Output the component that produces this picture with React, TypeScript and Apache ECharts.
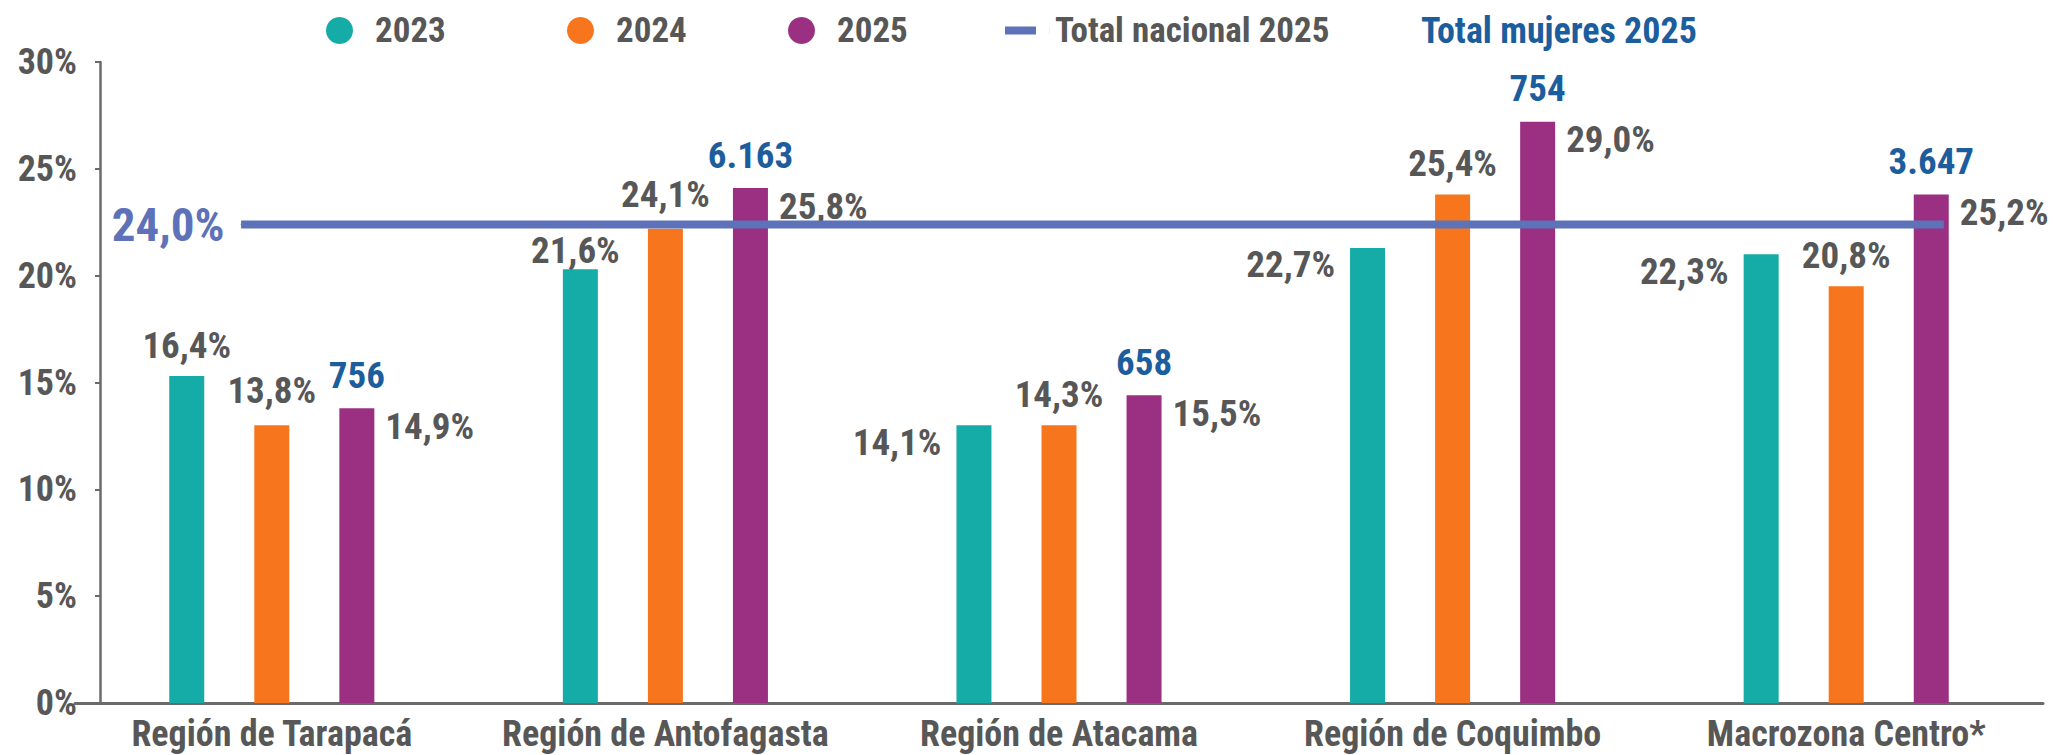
import React, { useEffect, useRef } from 'react';
import * as echarts from 'echarts';

// ---------- data ----------
const CATEGORIES = ['Región de Tarapacá', 'Región de Antofagasta', 'Región de Atacama', 'Región de Coquimbo', 'Macrozona Centro*'];
const SERIES_NAMES = ['2023', '2024', '2025'];
// bar heights as drawn against the y axis
const BAR_2023 = [15.3, 20.3, 13.0, 21.3, 21.0];
const BAR_2024 = [13.0, 22.2, 13.0, 23.8, 19.5];
const BAR_2025 = [13.8, 24.1, 14.4, 27.2, 23.8];
// printed percentage labels
const PCT_2023 = [16.4, 21.6, 14.1, 22.7, 22.3];
const PCT_2024 = [13.8, 24.1, 14.3, 25.4, 20.8];
const PCT_2025 = [14.9, 25.8, 15.5, 29.0, 25.2];
// printed "Total mujeres 2025" counts
const WOMEN_2025 = [756, 6163, 658, 754, 3647];
// national reference line
const NATIONAL_NAME = 'Total nacional 2025';
const NATIONAL_2025_LEVEL = 22.4;
const NATIONAL_2025_PCT = 24.0;
const WOMEN_TITLE = 'Total mujeres 2025';
const Y_MIN = 0;
const Y_MAX = 30;
const Y_STEP = 5;

// ---------- styles ----------
const FONT = "'Liberation Sans Narrow', 'Arial Narrow', 'Roboto Condensed', 'DejaVu Sans Condensed', 'Liberation Sans', sans-serif";
const GREY = '#575757';
const AXIS = '#6a6a6a';
const BLUE = '#1b5d9d';
const LINE = '#5d72b8';
const COLORS = ['#15aba6', '#f7761d', '#9b3082'];
const BAR_W = 35;
const LABEL_2023_SIDE = ['top', 'topShift', 'left', 'left', 'left'];
const LABEL_2024_DIST = [16, 16, 12, 12, 12];
const LINE_SPAN = [0.422, 4.748]; // in category units on hidden helper axis
const LINE_ICON = 'path://M0 0H31V8H0Z M44.9 0H45V8H44.9Z';

const pct = (v: number) => v.toFixed(1).replace('.', ',') + '%';
const thousands = (v: number) => String(v).replace(/\B(?=(\d{3})+(?!\d))/g, '.');

const labelBase = {
  show: true,
  fontFamily: FONT,
  fontSize: 37,
  fontWeight: 'bold' as const,
  color: GREY,
};

function buildOption() {
  const data2023 = BAR_2023.map((v, i) => {
    const side = LABEL_2023_SIDE[i];
    let label: any;
    if (side === 'left') {
      label = { ...labelBase, position: [-15, 17], align: 'right', verticalAlign: 'middle', formatter: pct(PCT_2023[i]) };
    } else if (side === 'topShift') {
      label = { ...labelBase, position: 'top', distance: 0, offset: [-5, 0], formatter: pct(PCT_2023[i]) };
    } else {
      label = { ...labelBase, position: 'top', distance: 12, formatter: pct(PCT_2023[i]) };
    }
    return { value: v, label };
  });
  const data2024 = BAR_2024.map((v, i) => ({
    value: v,
    label: { ...labelBase, position: 'top', distance: LABEL_2024_DIST[i], formatter: pct(PCT_2024[i]) },
  }));
  const data2025 = BAR_2025.map((v, i) => ({
    value: v,
    label: { ...labelBase, position: [BAR_W + 11, 18], align: 'left', verticalAlign: 'middle', formatter: pct(PCT_2025[i]) },
  }));

  const legendItem = (name: string, left: number, icon: string, w: number, h: number) => ({
    left,
    top: 8,
    orient: 'horizontal',
    selectedMode: false,
    data: [{ name, icon }],
    itemWidth: w,
    itemHeight: h,
    textStyle: { fontFamily: FONT, fontSize: 35, fontWeight: 'bold', color: GREY },
  });

  return {
    animation: false,
    backgroundColor: '#ffffff',
    grid: { left: 75, right: 10, top: 62, bottom: 52 },
    legend: [
      legendItem(SERIES_NAMES[0], 321, 'circle', 61, 27),
      legendItem(SERIES_NAMES[1], 562, 'circle', 61, 27),
      legendItem(SERIES_NAMES[2], 783, 'circle', 61, 27),
      legendItem(NATIONAL_NAME, 1000, LINE_ICON, 45, 8),
    ],
    graphic: [
      {
        type: 'text',
        x: 1421,
        y: 31,
        style: {
          text: WOMEN_TITLE,
          fontFamily: FONT,
          fontSize: 36,
          fontWeight: 'bold',
          fill: BLUE,
          verticalAlign: 'middle',
          align: 'left',
        },
      },
    ],
    xAxis: [
      {
        type: 'category',
        data: CATEGORIES,
        axisLine: { show: true, lineStyle: { color: AXIS, width: 3 } },
        axisTick: { show: false },
        axisLabel: { fontFamily: FONT, fontSize: 36, fontWeight: 'bold', color: GREY, margin: 13, interval: 0 },
      },
      { type: 'value', min: 0, max: CATEGORIES.length, show: false },
    ],
    yAxis: {
      type: 'value',
      min: Y_MIN,
      max: Y_MAX,
      interval: Y_STEP,
      offset: -25,
      axisLine: { show: true, lineStyle: { color: AXIS, width: 2.5 } },
      axisTick: { show: true, length: 5, lineStyle: { color: AXIS, width: 2 } },
      splitLine: { show: false },
      axisLabel: { fontFamily: FONT, fontSize: 36, fontWeight: 'bold', color: GREY, margin: 23, formatter: '{value}%' },
    },
    series: [
      { name: SERIES_NAMES[0], type: 'bar', barWidth: BAR_W, barGap: '143%', itemStyle: { color: COLORS[0] }, data: data2023 },
      { name: SERIES_NAMES[1], type: 'bar', barWidth: BAR_W, barGap: '143%', itemStyle: { color: COLORS[1] }, data: data2024 },
      {
        name: SERIES_NAMES[2], type: 'bar', barWidth: BAR_W, barGap: '143%', itemStyle: { color: COLORS[2] }, data: data2025,
        markPoint: {
          symbol: 'circle',
          symbolSize: 1,
          itemStyle: { color: 'rgba(0,0,0,0)' },
          label: {
            show: true, position: 'top', distance: 14, fontFamily: FONT, fontSize: 37, fontWeight: 'bold', color: BLUE,
            formatter: (p: any) => thousands(p.value),
          },
          data: WOMEN_2025.map((c, i) => ({ coord: [i, BAR_2025[i]], value: c })),
        },
      },
      {
        name: NATIONAL_NAME,
        type: 'line',
        xAxisIndex: 1,
        yAxisIndex: 0,
        symbol: 'circle',
        symbolSize: 1,
        showSymbol: true,
        itemStyle: { color: LINE },
        lineStyle: { color: LINE, width: 8 },
        z: 5,
        data: [
          {
            value: [LINE_SPAN[0], NATIONAL_2025_LEVEL],
            label: { show: true, position: 'left', distance: 16, fontFamily: FONT, fontSize: 47, fontWeight: 'bold', color: LINE, formatter: pct(NATIONAL_2025_PCT) },
          },
          { value: [LINE_SPAN[1], NATIONAL_2025_LEVEL], label: { show: false } },
        ],
      },
    ],
  };
}

export default function App() {
  const ref = useRef<HTMLDivElement>(null);
  useEffect(() => {
    const chart = echarts.init(ref.current!, null, { renderer: 'svg' });
    chart.setOption(buildOption() as any);
    return () => chart.dispose();
  }, []);
  return <div ref={ref} style={{ position: 'fixed', left: 0, top: 0, width: '2053px', height: '755px', background: '#fff' }} />;
}
